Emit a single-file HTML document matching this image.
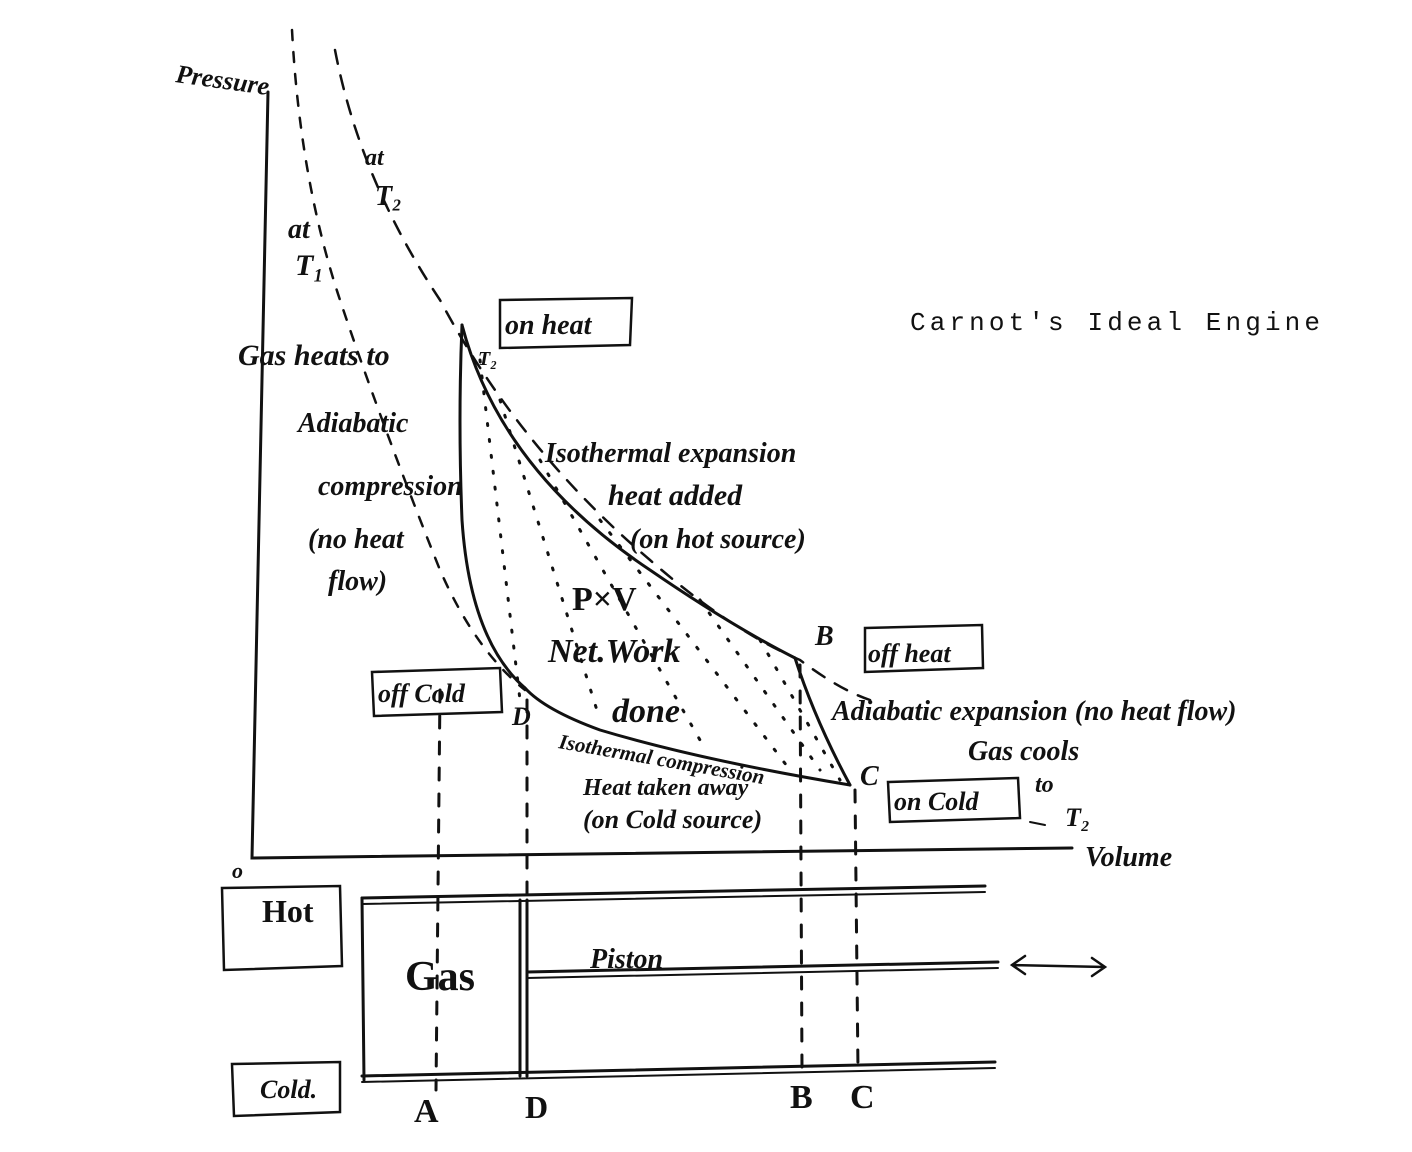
<!DOCTYPE html>
<html><head><meta charset="utf-8"><style>
html,body{margin:0;padding:0;background:#fff;}
svg{display:block;}
text{font-family:"Liberation Serif",serif;font-style:italic;fill:#111;font-weight:bold;}
.m{font-family:"Liberation Mono",monospace;font-style:normal;font-weight:normal;}
</style></head><body>
<svg width="1412" height="1152" viewBox="0 0 1412 1152" xmlns="http://www.w3.org/2000/svg">
<g stroke="#111" fill="none" stroke-width="3" stroke-linecap="round">
<path d="M268 92 L252 858 L1072 848"/>
<path d="M292 30 Q300 180 340 300 Q380 420 440 570 Q475 650 525 690" stroke-dasharray="10 12" stroke-width="2.5"/>
<path d="M335 50 Q360 180 440 300 Q520 450 650 560 Q730 630 800 660 Q840 690 870 700" stroke-dasharray="14 12" stroke-width="2.5"/>
<path d="M462 325 Q500 470 650 570 Q730 625 795 658"/>
<path d="M795 658 Q815 720 850 785"/>
<path d="M850 785 Q700 760 600 730 Q545 710 525 688"/>
<path d="M525 688 Q470 640 462 520 Q458 420 462 325"/>
<g stroke-dasharray="2 14" stroke-width="3">
<path d="M480 360 L520 700"/><path d="M500 400 L600 720"/><path d="M540 460 L700 740"/>
<path d="M600 520 L790 770"/><path d="M700 600 L820 770"/><path d="M760 640 L840 780"/>
</g>
<g stroke-dasharray="12 14" stroke-width="3">
<path d="M440 690 L436 1090"/><path d="M527 700 L527 1080"/><path d="M800 665 L802 1070"/><path d="M855 790 L858 1070"/>
</g>
<path d="M500 300 L632 298 L630 345 L500 348 Z" stroke-width="2.5"/>
<path d="M865 628 L982 625 L983 668 L865 672 Z" stroke-width="2.5"/>
<path d="M372 672 L500 668 L502 712 L374 716 Z" stroke-width="2.5"/>
<path d="M888 782 L1018 778 L1020 818 L890 822 Z" stroke-width="2.5"/>
<path d="M222 888 L340 886 L342 966 L224 970 Z" stroke-width="2.5"/>
<path d="M232 1064 L340 1062 L340 1112 L234 1116 Z" stroke-width="2.5"/>
<path d="M362 898 L985 886"/><path d="M362 904 L985 892" stroke-width="2"/>
<path d="M362 1076 L995 1062"/><path d="M362 1082 L995 1068" stroke-width="2"/>
<path d="M362 898 L364 1080"/>
<path d="M520 900 L520 1076"/><path d="M527 900 L527 1076"/>
<path d="M527 972 L998 962"/><path d="M527 978 L998 968" stroke-width="2"/>
<path d="M1012 965 L1105 967 M1025 956 L1012 965 L1025 974 M1092 958 L1105 967 L1092 976" stroke-width="2.5"/>
<path d="M1030 822 L1045 825" stroke-width="2"/>
</g>
<text x="175" y="82" font-size="26" transform="rotate(8 175 82)">Pressure</text>
<text x="232" y="878" font-size="22">o</text>
<text x="288" y="238" font-size="28">at</text>
<text x="295" y="275" font-size="30">T₁</text>
<text x="365" y="165" font-size="24">at</text>
<text x="375" y="205" font-size="28">T₂</text>
<text x="238" y="365" font-size="30">Gas heats to</text>
<text x="478" y="365" font-size="20">T₂</text>
<text x="505" y="334" font-size="28">on heat</text>
<text x="298" y="432" font-size="28">Adiabatic</text>
<text x="318" y="495" font-size="28">compression</text>
<text x="308" y="548" font-size="28">(no heat</text>
<text x="328" y="590" font-size="28">flow)</text>
<text x="545" y="462" font-size="28">Isothermal expansion</text>
<text x="608" y="505" font-size="30">heat added</text>
<text x="630" y="548" font-size="28">(on hot source)</text>
<text x="572" y="610" font-size="34" style="font-style:normal">P×V</text>
<text x="548" y="662" font-size="34">Net.Work</text>
<text x="612" y="722" font-size="34">done</text>
<text x="815" y="645" font-size="28">B</text>
<text x="868" y="662" font-size="26">off heat</text>
<text x="378" y="702" font-size="26">off Cold</text>
<text x="512" y="725" font-size="26">D</text>
<text x="832" y="720" font-size="28">Adiabatic expansion (no heat flow)</text>
<text x="968" y="760" font-size="28">Gas cools</text>
<text x="1035" y="792" font-size="24">to</text>
<text x="1065" y="826" font-size="26">T₂</text>
<text x="860" y="785" font-size="28">C</text>
<text x="894" y="810" font-size="26">on Cold</text>
<text x="558" y="748" font-size="21" transform="rotate(10 558 748)">Isothermal compression</text>
<text x="583" y="795" font-size="24">Heat taken away</text>
<text x="583" y="828" font-size="26">(on Cold source)</text>
<text x="1085" y="866" font-size="28">Volume</text>
<text x="262" y="922" font-size="32" style="font-style:normal">Hot</text>
<text x="260" y="1098" font-size="26">Cold.</text>
<text x="405" y="990" font-size="42" style="font-style:normal">Gas</text>
<text x="590" y="968" font-size="28">Piston</text>
<text x="414" y="1122" font-size="34" style="font-style:normal">A</text>
<text x="525" y="1118" font-size="32" style="font-style:normal">D</text>
<text x="790" y="1108" font-size="34" style="font-style:normal">B</text>
<text x="850" y="1108" font-size="34" style="font-style:normal">C</text>
<text x="910" y="330" font-size="26" class="m" textLength="410" lengthAdjust="spacing">Carnot's Ideal Engine</text>
</svg>
</body></html>
